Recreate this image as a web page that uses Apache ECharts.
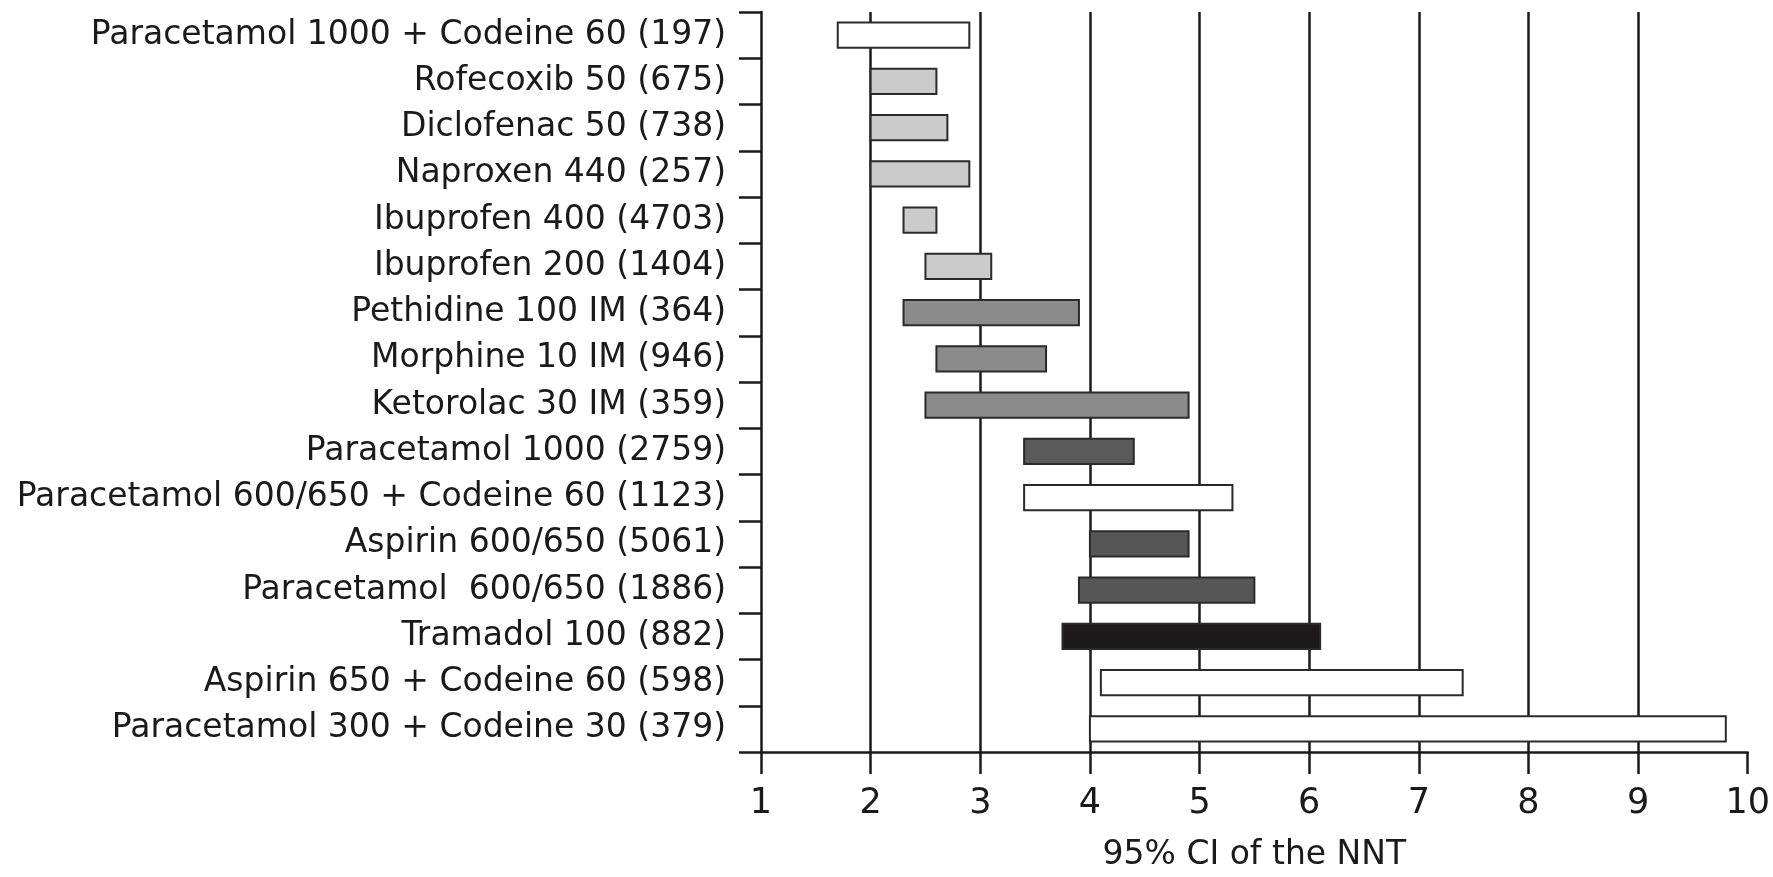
<!DOCTYPE html>
<html>
<head>
<meta charset="utf-8">
<script src="https://cdn.jsdelivr.net/npm/echarts@6/dist/echarts.min.js"></script>
<style>
html,body{margin:0;padding:0;background:#fff;}
#chart{width:1773px;height:877px;}
</style>
</head>
<body>
<div id="chart"></div>
<script>
// ---- data ----
const categories = [
  'Paracetamol 1000 + Codeine 60 (197)',
  'Rofecoxib 50 (675)',
  'Diclofenac 50 (738)',
  'Naproxen 440 (257)',
  'Ibuprofen 400 (4703)',
  'Ibuprofen 200 (1404)',
  'Pethidine 100 IM (364)',
  'Morphine 10 IM (946)',
  'Ketorolac 30 IM (359)',
  'Paracetamol 1000 (2759)',
  'Paracetamol 600/650 + Codeine 60 (1123)',
  'Aspirin 600/650 (5061)',
  'Paracetamol  600/650 (1886)',
  'Tramadol 100 (882)',
  'Aspirin 650 + Codeine 60 (598)',
  'Paracetamol 300 + Codeine 30 (379)'
];
const lowerCI = [1.7, 2.0, 2.0, 2.0, 2.3, 2.5, 2.3, 2.6, 2.5, 3.4, 3.4, 4.0, 3.9, 3.75, 4.1, 4.0];
const upperCI = [2.9, 2.6, 2.7, 2.9, 2.6, 3.1, 3.9, 3.6, 4.9, 4.4, 5.3, 4.9, 5.5, 6.1, 7.4, 9.8];
const xTicks = [1, 2, 3, 4, 5, 6, 7, 8, 9, 10];
const xAxisTitle = '95% CI of the NNT';

// ---- styles ----
const fills = ['#ffffff', '#cbcbcb', '#cbcbcb', '#cbcbcb', '#cbcbcb', '#cbcbcb',
  '#8b8b8b', '#8b8b8b', '#8b8b8b', '#5a5a5a', '#ffffff', '#565656', '#565656',
  '#1c191a', '#ffffff', '#ffffff'];

const chart = echarts.init(document.getElementById('chart'), null, {renderer: 'canvas'});
const FONT = 'DejaVu Sans';

const seriesData = categories.map((c, i) => [i, lowerCI[i], upperCI[i]]);

chart.setOption({
  animation: false,
  backgroundColor: '#ffffff',
  grid: {left: 761, right: 22, top: 12, bottom: 120, containLabel: false},
  xAxis: {
    type: 'value',
    min: xTicks[0],
    max: xTicks[xTicks.length - 1],
    interval: 1,
    name: xAxisTitle,
    nameLocation: 'middle',
    nameGap: 87,
    nameTextStyle: {fontFamily: FONT, fontSize: 33, color: '#1a1a1a'},
    axisLine: {show: true, lineStyle: {color: '#1a1a1a', width: 2.5}},
    axisTick: {show: true, length: 22, lineStyle: {color: '#1a1a1a', width: 2.5}},
    axisLabel: {margin: 34, fontFamily: FONT, fontSize: 35, color: '#1a1a1a'},
    splitLine: {show: true, showMinLine: false, showMaxLine: false, lineStyle: {color: '#1a1a1a', width: 2.5}}
  },
  yAxis: {
    type: 'category',
    data: categories,
    inverse: true,
    axisLine: {show: true, lineStyle: {color: '#1a1a1a', width: 2.5}},
    axisTick: {show: true, length: 22, lineStyle: {color: '#1a1a1a', width: 2.5}},
    axisLabel: {margin: 35, fontFamily: FONT, fontSize: 33, color: '#1a1a1a', interval: 0},
    splitLine: {show: false}
  },
  series: [{
    type: 'custom',
    data: seriesData,
    encode: {x: [1, 2], y: 0},
    renderItem: function (params, api) {
      const idx = api.value(0);
      const p0 = api.coord([api.value(1), idx]);
      const p1 = api.coord([api.value(2), idx]);
      const h = api.size([0, 1])[1] * 0.55;
      return {
        type: 'rect',
        shape: {x: p0[0], y: p0[1] - h / 2, width: p1[0] - p0[0], height: h},
        style: {fill: fills[idx], stroke: '#2a2a2a', lineWidth: 2}
      };
    },
    z: 5
  }]
});
</script>
</body>
</html>
